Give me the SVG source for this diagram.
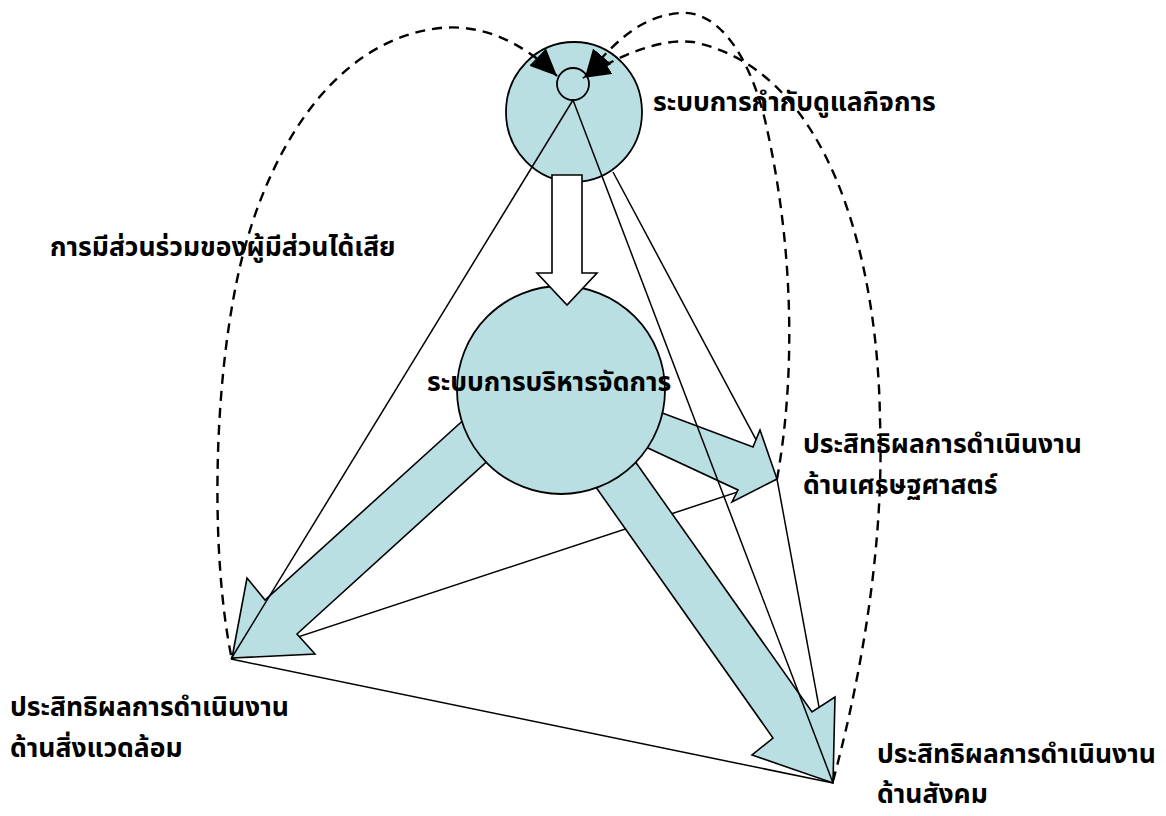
<svg xmlns="http://www.w3.org/2000/svg" width="1166" height="816" viewBox="0 0 1166 816">
<style>
.bg{fill:#ffffff}
.ln{stroke:#000;stroke-width:1.5;fill:none}
.blk{fill:#b9dfe3;stroke:#000;stroke-width:1.6;stroke-linejoin:miter}
.nd{fill:#b9dfe3;stroke:#000;stroke-width:1.8}
.wa{fill:#ffffff;stroke:#000;stroke-width:1.6}
.ds{stroke:#000;stroke-width:2.4;fill:none;stroke-dasharray:10 7}
.t{font-family:Tahoma,"Noto Sans Thai","Loma","Garuda","DejaVu Sans",sans-serif;font-weight:bold;font-size:26.5px;fill:#000}
</style>
<defs>
<marker id="ah" markerUnits="userSpaceOnUse" markerWidth="28" markerHeight="24" refX="27" refY="12" orient="auto" viewBox="0 0 28 24">
<path d="M0,0 L27,12 L0,24 z" fill="#000"/>
</marker>
</defs>
<rect class="bg" x="0" y="0" width="1166" height="816"/>
<g id="connectors-back">
<line class="ln" x1="613" y1="172" x2="777" y2="479"/>
<line class="ln" x1="777" y1="479" x2="833" y2="783"/>
<line class="ln" x1="777" y1="479" x2="231" y2="659"/>
</g>
<g id="flow-arrows">
<polygon class="blk" points="480,405 265,600 247,578 232,658 315,654 297,634 505,445"/>
<polygon class="blk" points="633,402 753,447 760,430 777,479 732,502 738,490 620,435"/>
<polygon class="blk" points="620,440 812,712 835,697 833,783 752,755 773,738 581,466"/>
</g>
<g id="node-management">
<circle class="nd" cx="561" cy="390" r="104"/>
</g>
<g id="node-governance">
<ellipse class="nd" cx="574" cy="112" rx="68" ry="70"/>
<circle class="nd" cx="573" cy="84" r="16"/>
</g>
<g id="governance-to-management">
<polygon class="wa" points="552,175 582,175 582,273 597,273 567,305 537,273 552,273"/>
</g>
<g id="connectors-front">
<line class="ln" x1="573" y1="100" x2="231" y2="659"/>
<line class="ln" x1="573" y1="100" x2="833" y2="783"/>
<line class="ln" x1="231" y1="659" x2="833" y2="783"/>
</g>
<g id="labels">
<text class="t" x="653" y="111">ระบบการกำกับดูแลกิจการ</text>
<text class="t" x="50" y="256">การมีส่วนร่วมของผู้มีส่วนได้เสีย</text>
<text class="t" x="427" y="391">ระบบการบริหารจัดการ</text>
<text class="t" x="803" y="453">ประสิทธิผลการดำเนินงาน</text>
<text class="t" x="803" y="494">ด้านเศรษฐศาสตร์</text>
<text class="t" x="10" y="716">ประสิทธิผลการดำเนินงาน</text>
<text class="t" x="10" y="757">ด้านสิ่งแวดล้อม</text>
<text class="t" x="877" y="763">ประสิทธิผลการดำเนินงาน</text>
<text class="t" x="877" y="803">ด้านสังคม</text>
</g>
<g id="feedback-connectors">
<path class="ds" marker-end="url(#ah)" d="M231,655 C212,560 212,400 237,280 C262,160 330,40 440,28 C480,24 520,40 557,76"/>
<path class="ds" marker-end="url(#ah)" d="M777,479 C795,380 795,250 765,120 C745,40 710,10 680,13 C645,16 620,35 585,77"/>
<path class="ds" marker-end="url(#ah)" d="M833,781 C855,700 885,560 880,420 C878,260 830,70 693,42 C660,38 620,55 583,78"/>
</g>
</svg>
